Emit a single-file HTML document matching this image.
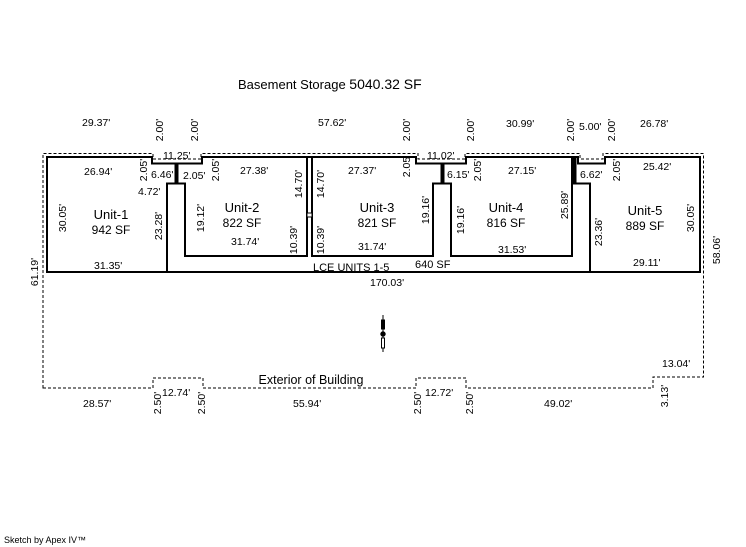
<!DOCTYPE html>
<html><head><meta charset="utf-8"><style>
html,body{margin:0;padding:0;background:#fff}
svg{display:block}
text{font-family:"Liberation Sans",Arial,sans-serif;fill:#000}
.d{font-size:10.5px}
.u{font-size:13px}
</style></head><body>
<svg width="746" height="547" viewBox="0 0 746 547" xmlns="http://www.w3.org/2000/svg">
<g fill="none" stroke="#000" stroke-width="1" stroke-dasharray="3,2">
<path d="M43,388 V153.5 H153 V159 H201 V153.5 H418 V159 H465 V153.5 H580 V159 H603 V153.5 H703.5 V377 H653 V388 H466 V378 H416 V388 H203 V378 H153 V388 Z"/>
</g>
<g fill="none" stroke="#000" stroke-width="2">
<path d="M47,272 V157 H152 V163.5 H202 V157 H416 V163.5 H466 V157 H578 V163.5 H605 V157 H700 V272 Z"/>
<path d="M167,272 V183.5 H185 V256 H307 V157"/>
<path d="M312,157 V256 H433 V183.5 H451 V256 H572 V157"/>
<path d="M590,272 V183.5 H572"/>
</g>
<g stroke="#000" stroke-width="4">
<line x1="176.5" y1="163" x2="176.5" y2="184"/>
<line x1="442.5" y1="163" x2="442.5" y2="184"/>
<line x1="574.5" y1="157" x2="574.5" y2="184"/>
</g>
<rect x="307" y="213" width="5" height="4" fill="#fff" stroke="#000" stroke-width="1"/>
<!-- compass -->
<g stroke="#000" fill="#000">
<line x1="383" y1="315" x2="383" y2="352" stroke-width="1"/>
<rect x="381.5" y="320" width="3" height="9"/>
<circle cx="383" cy="334" r="2.2"/>
<rect x="381.5" y="338" width="3" height="10" fill="#fff"/>
</g>
<text class="u" x="238" y="89">Basement Storage <tspan font-size="14">5040.32 SF</tspan></text>
<g class="d">
<text x="82" y="126">29.37'</text>
<text x="318" y="126">57.62'</text>
<text x="506" y="127">30.99'</text>
<text x="579" y="130">5.00'</text>
<text x="640" y="127">26.78'</text>
<text x="163" y="159">11.25'</text>
<text x="427" y="159">11.02'</text>
<text x="84" y="175">26.94'</text>
<text x="151" y="178">6.46'</text>
<text x="183" y="179">2.05'</text>
<text x="240" y="174">27.38'</text>
<text x="348" y="174">27.37'</text>
<text x="447" y="178">6.15'</text>
<text x="508" y="174">27.15'</text>
<text x="580" y="178">6.62'</text>
<text x="643" y="170">25.42'</text>
<text x="138" y="195">4.72'</text>
<text x="231" y="245">31.74'</text>
<text x="358" y="250">31.74'</text>
<text x="498" y="253">31.53'</text>
<text x="94" y="269">31.35'</text>
<text x="633" y="266">29.11'</text>
<text x="370" y="286">170.03'</text>
<text x="313" y="271" font-size="11">LCE UNITS 1-5</text>
<text x="415" y="268" font-size="11">640 SF</text>
<text x="662" y="367">13.04'</text>
<text x="83" y="407">28.57'</text>
<text x="162" y="396">12.74'</text>
<text x="293" y="407">55.94'</text>
<text x="425" y="396">12.72'</text>
<text x="544" y="407">49.02'</text>
</g>
<g class="d" text-anchor="middle">
<text transform="translate(163,130) rotate(-90)">2.00'</text>
<text transform="translate(198,130) rotate(-90)">2.00'</text>
<text transform="translate(410,130) rotate(-90)">2.00'</text>
<text transform="translate(474,130) rotate(-90)">2.00'</text>
<text transform="translate(574,130) rotate(-90)">2.00'</text>
<text transform="translate(615,130) rotate(-90)">2.00'</text>
<text transform="translate(147,170) rotate(-90)">2.05'</text>
<text transform="translate(219,170) rotate(-90)">2.05'</text>
<text transform="translate(410,167) rotate(-90)">2.05</text>
<text transform="translate(481,170) rotate(-90)">2.05'</text>
<text transform="translate(620,170) rotate(-90)">2.05'</text>
<text transform="translate(302,184) rotate(-90)">14.70'</text>
<text transform="translate(324,184) rotate(-90)">14.70'</text>
<text transform="translate(66,218) rotate(-90)">30.05'</text>
<text transform="translate(162,226) rotate(-90)">23.28'</text>
<text transform="translate(204,218) rotate(-90)">19.12'</text>
<text transform="translate(429,210) rotate(-90)">19.16'</text>
<text transform="translate(464,220) rotate(-90)">19.16'</text>
<text transform="translate(568,205) rotate(-90)">25.89'</text>
<text transform="translate(602,232) rotate(-90)">23.36'</text>
<text transform="translate(694,218) rotate(-90)">30.05'</text>
<text transform="translate(297,240) rotate(-90)">10.39'</text>
<text transform="translate(324,240) rotate(-90)">10.39'</text>
<text transform="translate(38,272) rotate(-90)">61.19'</text>
<text transform="translate(720,250) rotate(-90)">58.06'</text>
<text transform="translate(161,403) rotate(-90)">2.50'</text>
<text transform="translate(205,403) rotate(-90)">2.50'</text>
<text transform="translate(421,403) rotate(-90)">2.50'</text>
<text transform="translate(473,403) rotate(-90)">2.50'</text>
<text transform="translate(668,396) rotate(-90)">3.13'</text>
</g>
<g class="u" text-anchor="middle">
<text x="111" y="219">Unit-1</text><text x="111" y="234" font-size="12">942 SF</text>
<text x="242" y="212">Unit-2</text><text x="242" y="227" font-size="12">822 SF</text>
<text x="377" y="212">Unit-3</text><text x="377" y="227" font-size="12">821 SF</text>
<text x="506" y="212">Unit-4</text><text x="506" y="227" font-size="12">816 SF</text>
<text x="645" y="215">Unit-5</text><text x="645" y="230" font-size="12">889 SF</text>
<text x="311" y="384" font-size="12.5">Exterior of Building</text>
</g>
<text x="4" y="543" font-size="9">Sketch by Apex IV™</text>
</svg>
</body></html>
